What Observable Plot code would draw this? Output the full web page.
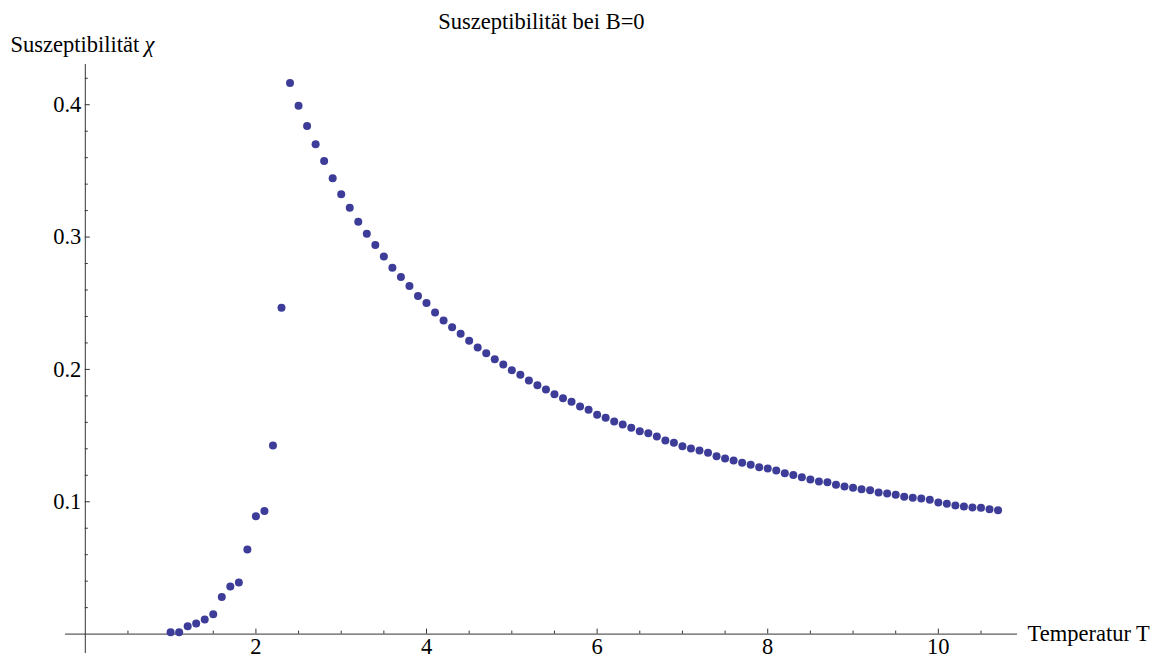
<!DOCTYPE html>
<html>
<head>
<meta charset="utf-8">
<script src="https://cdn.jsdelivr.net/npm/d3@7"></script>
<script src="https://cdn.jsdelivr.net/npm/@observablehq/plot@0.6"></script>
<style>
  html, body { margin: 0; padding: 0; background: #fff; }
  #chart { width: 1157px; height: 655px; }
</style>
</head>
<body>
<div id="chart"></div>
<script>
// ---- data ----
const temperatures = [
  1.0,1.1,1.2,1.3,1.4,1.5,1.6,1.7,1.8,1.9,
  2.0,2.1,2.2,2.3,2.4,2.5,2.6,2.7,2.8,2.9,
  3.0,3.1,3.2,3.3,3.4,3.5,3.6,3.7,3.8,3.9,
  4.0,4.1,4.2,4.3,4.4,4.5,4.6,4.7,4.8,4.9,
  5.0,5.1,5.2,5.3,5.4,5.5,5.6,5.7,5.8,5.9,
  6.0,6.1,6.2,6.3,6.4,6.5,6.6,6.7,6.8,6.9,
  7.0,7.1,7.2,7.3,7.4,7.5,7.6,7.7,7.8,7.9,
  8.0,8.1,8.2,8.3,8.4,8.5,8.6,8.7,8.8,8.9,
  9.0,9.1,9.2,9.3,9.4,9.5,9.6,9.7,9.8,9.9,
  10.0,10.1,10.2,10.3,10.4,10.5,10.6,10.7
];
const susceptibility = [
  0.0014,0.0014,0.0060,0.0080,0.0110,0.0150,0.0280,0.0360,0.0390,0.0640,
  0.0890,0.0930,0.1425,0.2466,0.4164,0.3993,0.3839,0.3701,0.3575,0.3444,
  0.3323,0.3222,0.3116,0.3026,0.2940,0.2854,0.2769,0.2698,0.2630,0.2554,
  0.2501,0.2430,0.2370,0.2319,0.2269,0.2216,0.2166,0.2123,0.2077,0.2037,
  0.1994,0.1959,0.1916,0.1881,0.1848,0.1813,0.1783,0.1755,0.1720,0.1695,
  0.1658,0.1634,0.1607,0.1584,0.1559,0.1533,0.1518,0.1493,0.1463,0.1445,
  0.1420,0.1403,0.1387,0.1370,0.1344,0.1327,0.1312,0.1294,0.1279,0.1261,
  0.1251,0.1236,0.1216,0.1202,0.1186,0.1168,0.1153,0.1148,0.1128,0.1115,
  0.1106,0.1095,0.1087,0.1070,0.1062,0.1053,0.1037,0.1030,0.1025,0.1015,
  0.0994,0.0985,0.0972,0.0964,0.0957,0.0954,0.0944,0.0936
];
const xTickLabels = [2, 4, 6, 8, 10];
const xMinorTicks = [0.5,1,1.5,2.5,3,3.5,4.5,5,5.5,6.5,7,7.5,8.5,9,9.5,10.5];
const yTickLabels = [0.1, 0.2, 0.3, 0.4];
const yMinorTicks = [0.02,0.04,0.06,0.08,0.12,0.14,0.16,0.18,0.22,0.24,0.26,0.28,0.32,0.34,0.36,0.38,0.42];
const titleText = "Suszeptibilität bei B=0";
const yLabelText = "Suszeptibilität";
const yLabelSymbol = "χ";
const xLabelText = "Temperatur T";

// plot range (axis extents)
const xMin = -0.232, xMax = 10.928;
const yMin = -0.0147, yMax = 0.4304;

const data = temperatures.map((T, i) => ({T, chi: susceptibility[i]}));

const W = 1157, H = 655;
const mL = 84.8, mR = 140, mT = 64, mB = 21.4;
const frameW = W - mL - mR, frameH = H - mT - mB;
const axisColor = "#333";
const dotColor = "#3d3d99";
const fs = 22.5;

const chart = Plot.plot({
  width: W,
  height: H,
  marginLeft: mL,
  marginRight: mR,
  marginTop: mT,
  marginBottom: mB,
  style: {fontFamily: "'Liberation Serif', 'Times New Roman', serif", fontSize: fs + "px", background: "#fff", color: "#000", overflow: "visible"},
  x: {domain: [0, xMax], axis: null},
  y: {domain: [0, yMax], axis: null},
  marks: [
    // axis lines
    Plot.ruleY([0], {x1: xMin, x2: xMax, stroke: axisColor, strokeWidth: 1}),
    Plot.ruleX([0], {y1: yMin, y2: yMax, stroke: axisColor, strokeWidth: 1}),
    // x ticks (inward, pointing up)
    Plot.tickX(xTickLabels, {x: d => d, insetTop: frameH - 5, stroke: axisColor}),
    Plot.tickX(xMinorTicks, {x: d => d, insetTop: frameH - 3, stroke: axisColor}),
    // y ticks (inward, pointing right)
    Plot.tickY(yTickLabels, {y: d => d, insetRight: frameW - 5, stroke: axisColor}),
    Plot.tickY(yMinorTicks, {y: d => d, insetRight: frameW - 3, stroke: axisColor}),
    // tick labels
    Plot.text(xTickLabels, {x: d => d, text: d => String(d), frameAnchor: "bottom", lineAnchor: "top", dy: 3.6, fill: "#000"}),
    Plot.text(yTickLabels, {y: d => d, text: d => d.toFixed(1), frameAnchor: "left", textAnchor: "end", dx: -4, fill: "#000"}),
    // data
    Plot.dot(data, {x: "T", y: "chi", r: 4, fill: dotColor, stroke: "none"}),
    // title & axis labels
    Plot.text([titleText], {frameAnchor: "top", textAnchor: "middle", lineAnchor: "middle", dx: -10, dy: -42.9, fill: "#000"}),
    Plot.text([yLabelText], {frameAnchor: "top-left", textAnchor: "start", lineAnchor: "middle", dx: 10 - mL, dy: 44.3 - mT, fill: "#000"}),
    Plot.text([yLabelSymbol], {frameAnchor: "top-left", textAnchor: "start", lineAnchor: "middle", dx: 144 - mL, dy: 44.3 - mT, fill: "#000", fontStyle: "italic"}),
    Plot.text([xLabelText], {frameAnchor: "bottom-right", textAnchor: "start", lineAnchor: "middle", dx: 10, dy: -0.8, fill: "#000"})
  ]
});
document.getElementById("chart").appendChild(chart);
</script>
</body>
</html>
